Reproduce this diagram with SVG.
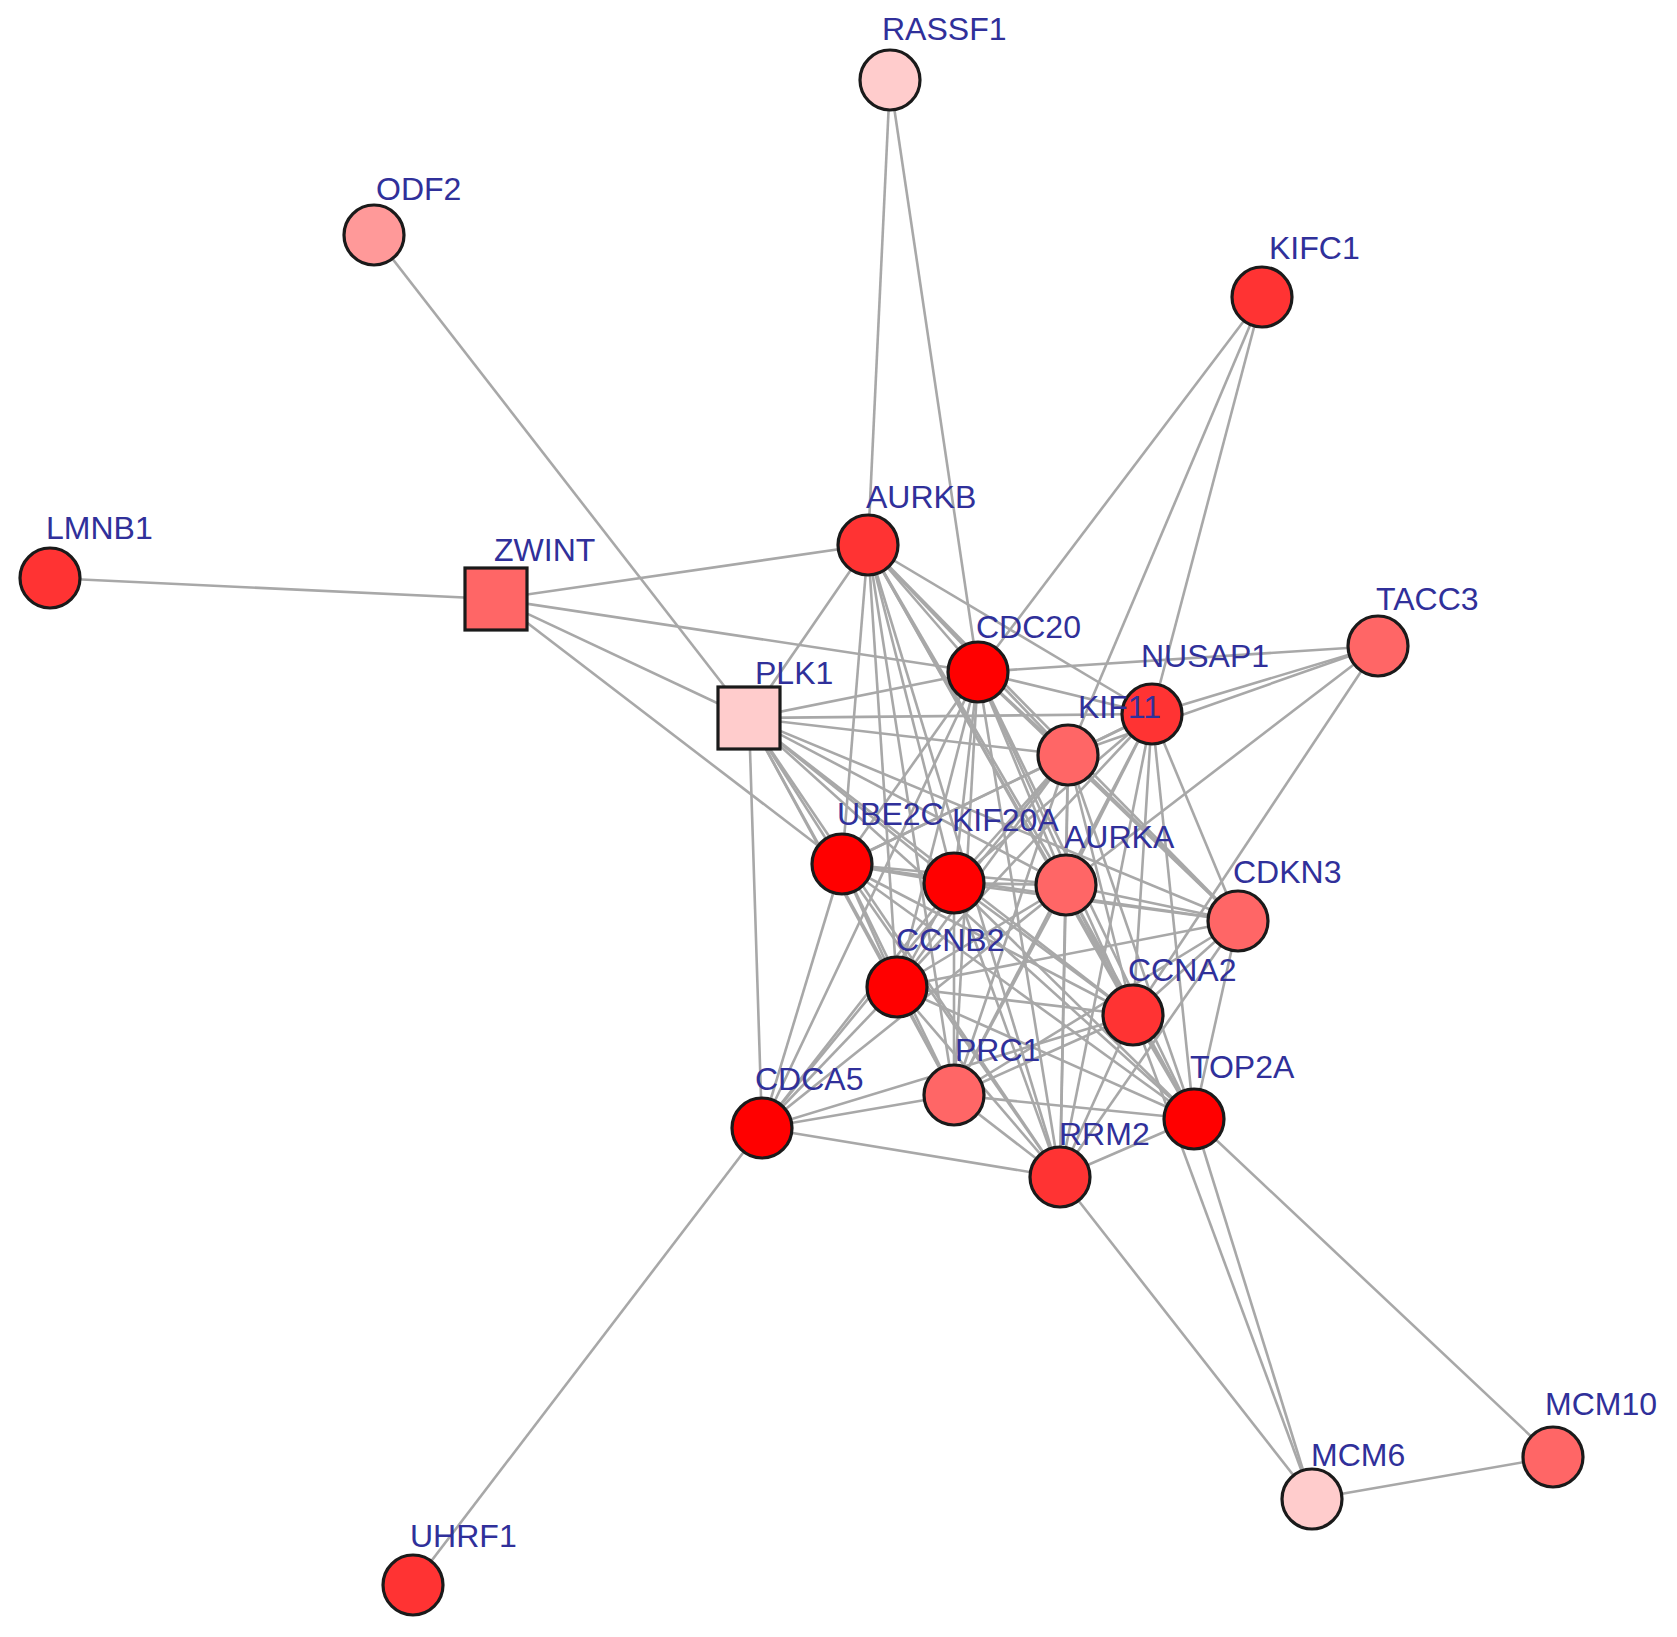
<svg xmlns="http://www.w3.org/2000/svg" width="1677" height="1637" viewBox="0 0 1677 1637">
<style>
.e line{stroke:#a8a8a8;stroke-width:2.6;fill:none}
.n circle,.n rect{stroke:#1a1a1a;stroke-width:3.2}
.n text{font-family:"Liberation Sans",Arial,sans-serif;font-size:32px;fill:#30309a}
.c0{fill:#ff0000}.c1{fill:#ff3333}.c2{fill:#ff6666}.c3{fill:#ff9999}.c4{fill:#ffcccc}
</style>
<rect width="1677" height="1637" fill="#ffffff"/>
<g id="edges" class="e">
<line x1="890" y1="80" x2="868" y2="545"/>
<line x1="890" y1="80" x2="978" y2="672"/>
<line x1="374" y1="235" x2="749" y2="718"/>
<line x1="1262" y1="297" x2="978" y2="672"/>
<line x1="1262" y1="297" x2="1068" y2="755"/>
<line x1="1262" y1="297" x2="1152" y2="714"/>
<line x1="50" y1="578" x2="496" y2="599"/>
<line x1="496" y1="599" x2="868" y2="545"/>
<line x1="496" y1="599" x2="978" y2="672"/>
<line x1="496" y1="599" x2="749" y2="718"/>
<line x1="496" y1="599" x2="842" y2="864"/>
<line x1="1378" y1="646" x2="978" y2="672"/>
<line x1="1378" y1="646" x2="1152" y2="714"/>
<line x1="1378" y1="646" x2="1068" y2="755"/>
<line x1="1378" y1="646" x2="1066" y2="885"/>
<line x1="1378" y1="646" x2="1133" y2="1015"/>
<line x1="1312" y1="1499" x2="1060" y2="1177"/>
<line x1="1312" y1="1499" x2="1194" y2="1119"/>
<line x1="1312" y1="1499" x2="1133" y2="1015"/>
<line x1="1312" y1="1499" x2="1553" y2="1457"/>
<line x1="1553" y1="1457" x2="1194" y2="1119"/>
<line x1="413" y1="1585" x2="762" y2="1128"/>
<line x1="868" y1="545" x2="978" y2="672"/>
<line x1="868" y1="545" x2="1152" y2="714"/>
<line x1="868" y1="545" x2="1068" y2="755"/>
<line x1="868" y1="545" x2="749" y2="718"/>
<line x1="868" y1="545" x2="842" y2="864"/>
<line x1="868" y1="545" x2="954" y2="883"/>
<line x1="868" y1="545" x2="1066" y2="885"/>
<line x1="868" y1="545" x2="1238" y2="921"/>
<line x1="868" y1="545" x2="897" y2="987"/>
<line x1="868" y1="545" x2="1133" y2="1015"/>
<line x1="868" y1="545" x2="954" y2="1095"/>
<line x1="868" y1="545" x2="1194" y2="1119"/>
<line x1="868" y1="545" x2="1060" y2="1177"/>
<line x1="978" y1="672" x2="1152" y2="714"/>
<line x1="978" y1="672" x2="1068" y2="755"/>
<line x1="978" y1="672" x2="749" y2="718"/>
<line x1="978" y1="672" x2="842" y2="864"/>
<line x1="978" y1="672" x2="954" y2="883"/>
<line x1="978" y1="672" x2="1066" y2="885"/>
<line x1="978" y1="672" x2="1238" y2="921"/>
<line x1="978" y1="672" x2="897" y2="987"/>
<line x1="978" y1="672" x2="1133" y2="1015"/>
<line x1="978" y1="672" x2="954" y2="1095"/>
<line x1="978" y1="672" x2="762" y2="1128"/>
<line x1="978" y1="672" x2="1194" y2="1119"/>
<line x1="978" y1="672" x2="1060" y2="1177"/>
<line x1="1152" y1="714" x2="1068" y2="755"/>
<line x1="1152" y1="714" x2="749" y2="718"/>
<line x1="1152" y1="714" x2="842" y2="864"/>
<line x1="1152" y1="714" x2="954" y2="883"/>
<line x1="1152" y1="714" x2="1066" y2="885"/>
<line x1="1152" y1="714" x2="1238" y2="921"/>
<line x1="1152" y1="714" x2="897" y2="987"/>
<line x1="1152" y1="714" x2="1133" y2="1015"/>
<line x1="1152" y1="714" x2="954" y2="1095"/>
<line x1="1152" y1="714" x2="1194" y2="1119"/>
<line x1="1152" y1="714" x2="1060" y2="1177"/>
<line x1="1068" y1="755" x2="749" y2="718"/>
<line x1="1068" y1="755" x2="842" y2="864"/>
<line x1="1068" y1="755" x2="954" y2="883"/>
<line x1="1068" y1="755" x2="1066" y2="885"/>
<line x1="1068" y1="755" x2="1238" y2="921"/>
<line x1="1068" y1="755" x2="897" y2="987"/>
<line x1="1068" y1="755" x2="1133" y2="1015"/>
<line x1="1068" y1="755" x2="954" y2="1095"/>
<line x1="1068" y1="755" x2="762" y2="1128"/>
<line x1="1068" y1="755" x2="1194" y2="1119"/>
<line x1="1068" y1="755" x2="1060" y2="1177"/>
<line x1="749" y1="718" x2="842" y2="864"/>
<line x1="749" y1="718" x2="954" y2="883"/>
<line x1="749" y1="718" x2="1066" y2="885"/>
<line x1="749" y1="718" x2="1238" y2="921"/>
<line x1="749" y1="718" x2="897" y2="987"/>
<line x1="749" y1="718" x2="1133" y2="1015"/>
<line x1="749" y1="718" x2="954" y2="1095"/>
<line x1="749" y1="718" x2="762" y2="1128"/>
<line x1="749" y1="718" x2="1194" y2="1119"/>
<line x1="749" y1="718" x2="1060" y2="1177"/>
<line x1="842" y1="864" x2="954" y2="883"/>
<line x1="842" y1="864" x2="1066" y2="885"/>
<line x1="842" y1="864" x2="1238" y2="921"/>
<line x1="842" y1="864" x2="897" y2="987"/>
<line x1="842" y1="864" x2="1133" y2="1015"/>
<line x1="842" y1="864" x2="954" y2="1095"/>
<line x1="842" y1="864" x2="762" y2="1128"/>
<line x1="842" y1="864" x2="1194" y2="1119"/>
<line x1="842" y1="864" x2="1060" y2="1177"/>
<line x1="954" y1="883" x2="1066" y2="885"/>
<line x1="954" y1="883" x2="1238" y2="921"/>
<line x1="954" y1="883" x2="897" y2="987"/>
<line x1="954" y1="883" x2="1133" y2="1015"/>
<line x1="954" y1="883" x2="954" y2="1095"/>
<line x1="954" y1="883" x2="762" y2="1128"/>
<line x1="954" y1="883" x2="1194" y2="1119"/>
<line x1="954" y1="883" x2="1060" y2="1177"/>
<line x1="1066" y1="885" x2="1238" y2="921"/>
<line x1="1066" y1="885" x2="897" y2="987"/>
<line x1="1066" y1="885" x2="1133" y2="1015"/>
<line x1="1066" y1="885" x2="954" y2="1095"/>
<line x1="1066" y1="885" x2="762" y2="1128"/>
<line x1="1066" y1="885" x2="1194" y2="1119"/>
<line x1="1066" y1="885" x2="1060" y2="1177"/>
<line x1="1238" y1="921" x2="897" y2="987"/>
<line x1="1238" y1="921" x2="1133" y2="1015"/>
<line x1="1238" y1="921" x2="954" y2="1095"/>
<line x1="1238" y1="921" x2="1194" y2="1119"/>
<line x1="1238" y1="921" x2="1060" y2="1177"/>
<line x1="897" y1="987" x2="1133" y2="1015"/>
<line x1="897" y1="987" x2="954" y2="1095"/>
<line x1="897" y1="987" x2="762" y2="1128"/>
<line x1="897" y1="987" x2="1194" y2="1119"/>
<line x1="897" y1="987" x2="1060" y2="1177"/>
<line x1="1133" y1="1015" x2="954" y2="1095"/>
<line x1="1133" y1="1015" x2="762" y2="1128"/>
<line x1="1133" y1="1015" x2="1194" y2="1119"/>
<line x1="1133" y1="1015" x2="1060" y2="1177"/>
<line x1="954" y1="1095" x2="762" y2="1128"/>
<line x1="954" y1="1095" x2="1194" y2="1119"/>
<line x1="954" y1="1095" x2="1060" y2="1177"/>
<line x1="762" y1="1128" x2="1060" y2="1177"/>
<line x1="1194" y1="1119" x2="1060" y2="1177"/>
</g>
<g id="node-RASSF1" class="n"><circle class="c4" cx="890" cy="80" r="30"/><text x="882" y="40">RASSF1</text></g>
<g id="node-ODF2" class="n"><circle class="c3" cx="374" cy="235" r="30"/><text x="376" y="200">ODF2</text></g>
<g id="node-KIFC1" class="n"><circle class="c1" cx="1262" cy="297" r="30"/><text x="1269" y="259">KIFC1</text></g>
<g id="node-LMNB1" class="n"><circle class="c1" cx="50" cy="578" r="30"/><text x="46" y="539">LMNB1</text></g>
<g id="node-ZWINT" class="n"><rect class="c2" x="465" y="568" width="62" height="62"/><text x="494" y="561">ZWINT</text></g>
<g id="node-AURKB" class="n"><circle class="c1" cx="868" cy="545" r="30"/><text x="866" y="508">AURKB</text></g>
<g id="node-TACC3" class="n"><circle class="c2" cx="1378" cy="646" r="30"/><text x="1376" y="610">TACC3</text></g>
<g id="node-CDC20" class="n"><circle class="c0" cx="978" cy="672" r="30"/><text x="976" y="638">CDC20</text></g>
<g id="node-NUSAP1" class="n"><circle class="c1" cx="1152" cy="714" r="30"/><text x="1141" y="667">NUSAP1</text></g>
<g id="node-KIF11" class="n"><circle class="c2" cx="1068" cy="755" r="30"/><text x="1078" y="718">KIF11</text></g>
<g id="node-PLK1" class="n"><rect class="c4" x="718" y="687" width="62" height="62"/><text x="755" y="684">PLK1</text></g>
<g id="node-UBE2C" class="n"><circle class="c0" cx="842" cy="864" r="30"/><text x="837" y="825">UBE2C</text></g>
<g id="node-KIF20A" class="n"><circle class="c0" cx="954" cy="883" r="30"/><text x="952" y="831">KIF20A</text></g>
<g id="node-AURKA" class="n"><circle class="c2" cx="1066" cy="885" r="30"/><text x="1064" y="848">AURKA</text></g>
<g id="node-CDKN3" class="n"><circle class="c2" cx="1238" cy="921" r="30"/><text x="1233" y="883">CDKN3</text></g>
<g id="node-CCNB2" class="n"><circle class="c0" cx="897" cy="987" r="30"/><text x="896" y="951">CCNB2</text></g>
<g id="node-CCNA2" class="n"><circle class="c1" cx="1133" cy="1015" r="30"/><text x="1128" y="981">CCNA2</text></g>
<g id="node-PRC1" class="n"><circle class="c2" cx="954" cy="1095" r="30"/><text x="955" y="1061">PRC1</text></g>
<g id="node-CDCA5" class="n"><circle class="c0" cx="762" cy="1128" r="30"/><text x="755" y="1090">CDCA5</text></g>
<g id="node-TOP2A" class="n"><circle class="c0" cx="1194" cy="1119" r="30"/><text x="1190" y="1078">TOP2A</text></g>
<g id="node-RRM2" class="n"><circle class="c1" cx="1060" cy="1177" r="30"/><text x="1059" y="1145">RRM2</text></g>
<g id="node-MCM6" class="n"><circle class="c4" cx="1312" cy="1499" r="30"/><text x="1311" y="1466">MCM6</text></g>
<g id="node-MCM10" class="n"><circle class="c2" cx="1553" cy="1457" r="30"/><text x="1545" y="1415">MCM10</text></g>
<g id="node-UHRF1" class="n"><circle class="c1" cx="413" cy="1585" r="30"/><text x="410" y="1547">UHRF1</text></g>
</svg>
